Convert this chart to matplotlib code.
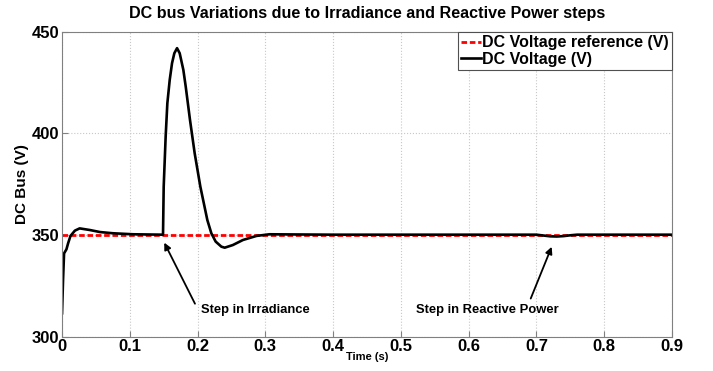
import matplotlib.pyplot as plt

# time (s) and DC bus voltage (V)
t = [0.0, 0.0015, 0.003, 0.0065, 0.009, 0.0125, 0.019, 0.026, 0.041, 0.056,
     0.075, 0.105, 0.149, 0.1500, 0.1529, 0.1554, 0.1589, 0.1623, 0.1657, 0.1697,
     0.1736, 0.1790, 0.1825, 0.1888, 0.1957, 0.2041, 0.2144, 0.2203, 0.2267, 0.2351,
     0.240, 0.252, 0.267, 0.287, 0.306, 0.35, 0.40, 0.50, 0.60, 0.70,
     0.71, 0.72, 0.73, 0.74, 0.75, 0.76, 0.80, 0.90]
v_dc = [311.5, 327.9, 341.0, 343.0, 346.0, 349.6, 352.2, 353.3, 352.5, 351.5,
        350.9, 350.4, 350.2, 373.8, 398.5, 414.9, 426.4, 434.6, 439.5, 442.0,
        439.5, 431.3, 423.1, 406.7, 390.3, 373.8, 357.4, 350.9, 346.8, 344.3,
        343.8, 345.1, 347.6, 349.6, 350.4, 350.3, 350.2, 350.2, 350.2, 350.2,
        349.8, 349.4, 349.3, 349.5, 349.9, 350.2, 350.2, 350.2]
t_ref = [0.0, 0.9]
v_ref = [350, 350]

plt.rcParams['font.family'] = ['Liberation Sans', 'DejaVu Sans']
fig = plt.figure(figsize=(7.13, 3.71), dpi=100)
ax = fig.add_axes([0.087, 0.0925, 0.8555, 0.8215])

ax.plot(t_ref, v_ref, color='red', linestyle=(0, (2, 1)), linewidth=2,
        label='DC Voltage reference (V)')
ax.plot(t, v_dc, color='black', linewidth=1.9, label='DC Voltage (V)')

ax.set_xlim(0, 0.9)
ax.set_ylim(300, 450)
ax.set_xticks([0, 0.1, 0.2, 0.3, 0.4, 0.5, 0.6, 0.7, 0.8, 0.9])
ax.set_xticklabels(['0', '0.1', '0.2', '0.3', '0.4', '0.5', '0.6', '0.7', '0.8', '0.9'])
ax.set_yticks([300, 350, 400, 450])
ax.grid(True, linestyle=':', color='#c8c8c8', linewidth=0.8)
for s in ax.spines.values():
    s.set_color('#808080')
ax.tick_params(labelsize=12, direction='in', length=4, color='#808080', pad=2)
for lbl in ax.get_xticklabels() + ax.get_yticklabels():
    lbl.set_fontweight('bold')

ax.set_title('DC bus Variations due to Irradiance and Reactive Power steps',
             fontsize=11.6, fontweight='bold', pad=10)
ax.set_ylabel('DC Bus (V)', fontsize=11, fontweight='bold', labelpad=2)
ax.set_xlabel('Time (s)', fontsize=8, fontweight='bold', labelpad=-2)

leg = ax.legend(loc='upper right', borderaxespad=0, fancybox=False,
                framealpha=1, edgecolor='#505050', handlelength=1.2,
                handletextpad=0.1, borderpad=0.2, labelspacing=0.1,
                prop={'size': 11.5, 'weight': 'bold'})
leg.get_frame().set_linewidth(0.8)

arrow = dict(arrowstyle='-|>', color='black', linewidth=1.3, mutation_scale=10)
ax.text(0.2056, 313, 'Step in Irradiance', fontsize=9.4, fontweight='bold',
        ha='left', va='center')
ax.annotate('', xy=(0.149, 347.5), xytext=(0.198, 315), arrowprops=arrow)
ax.text(0.522, 313, 'Step in Reactive Power', fontsize=9.4, fontweight='bold',
        ha='left', va='center')
ax.annotate('', xy=(0.724, 345.5), xytext=(0.690, 317.5), arrowprops=arrow)

fig.savefig('out.png', dpi=100)
